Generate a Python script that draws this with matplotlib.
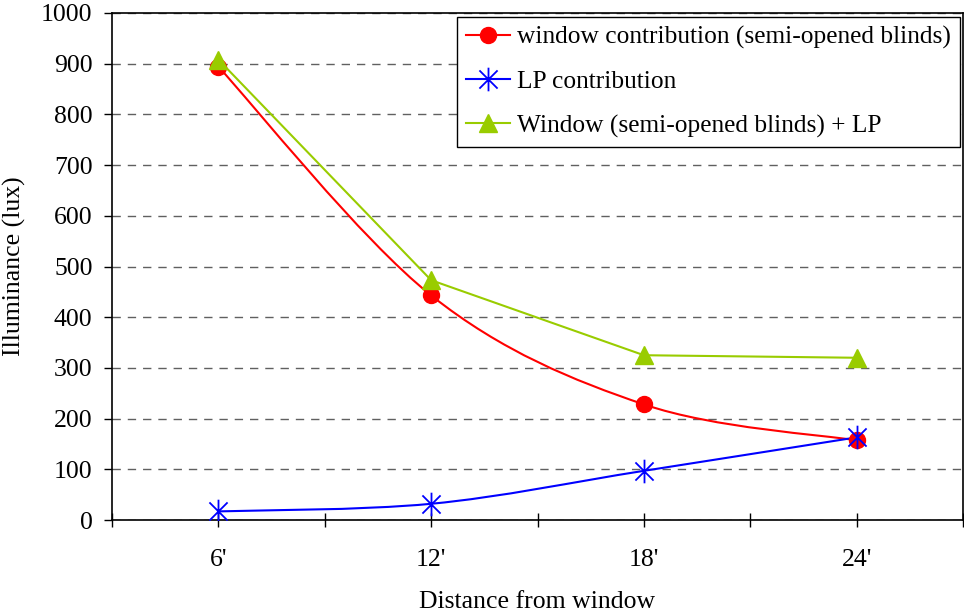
import numpy as np
import matplotlib
matplotlib.use('Agg')
from matplotlib import pyplot as plt
from matplotlib.path import Path
from matplotlib.patches import PathPatch

plt.rcParams['font.family'] = ['Liberation Serif', 'DejaVu Serif']

distances = ["6'", "12'", "18'", "24'"]
window = [894, 443, 228, 157]
lp = [17, 32, 97, 163]
total = [908, 473, 325, 320]

fontsize = 18.5
red = '#ff0000'
blue = '#0000ff'
green = '#99cc00'

# excel asterisk: an x plus a vertical bar
star = Path([(-1, -1), (1, 1), (-1, 1), (1, -1), (0, -1.3), (0, 1.3)],
            [Path.MOVETO, Path.LINETO] * 3)


def smooth_path(x, y):
    # excel style smoothed line: cubic bezier through the points
    pts = np.column_stack([x, y]).astype(float)
    n = len(pts)
    verts = [pts[0]]
    codes = [Path.MOVETO]
    for i in range(n - 1):
        p0 = pts[i - 1] if i > 0 else pts[i]
        p1 = pts[i]
        p2 = pts[i + 1]
        p3 = pts[i + 2] if i + 2 < n else pts[i + 1]
        c1 = p1 + (p2 - p0) / 6.
        c2 = p2 - (p3 - p1) / 6.
        verts += [c1, c2, p2]
        codes += [Path.CURVE4] * 3
    return Path(verts, codes)


fig = plt.figure(figsize=(9.64, 6.13), dpi=100)
ax = fig.add_axes([0.1162, 0.1517, 0.8828, 0.8271])

xs = np.arange(len(distances)) + 0.5

ax.add_patch(PathPatch(smooth_path(xs, window), fc='none', ec=red, lw=1.5, zorder=3))
ax.add_patch(PathPatch(smooth_path(xs, lp), fc='none', ec=blue, lw=1.5, zorder=3))
ax.plot(xs, total, color=green, lw=1.5, zorder=3)

ax.plot(xs, window, ls='none', marker='o', color=red, markersize=11.5, zorder=4)
ax.plot(xs, lp, ls='none', marker=star, color=blue, markersize=17, mew=1.3, zorder=4)
ax.plot(xs, total, ls='none', marker='^', color=green, markersize=13, zorder=4)

# legend handles
h1, = ax.plot([], [], color=red, lw=1.5, marker='o', markersize=11.5)
h2, = ax.plot([], [], color=blue, lw=1.5, marker=star, markersize=17, mew=1.3)
h3, = ax.plot([], [], color=green, lw=1.5, marker='^', markersize=13)
leg = ax.legend([h1, h2, h3],
                ['window contribution (semi-opened blinds)', 'LP contribution',
                 'Window (semi-opened blinds) + LP'],
                loc='upper right', bbox_to_anchor=(960 / 964, 1 - 17 / 613),
                bbox_transform=fig.transFigure,
                fontsize=18.3, frameon=True, fancybox=False,
                edgecolor='black', framealpha=1, borderaxespad=0, handlelength=1.75,
                handletextpad=0.28, labelspacing=0.84, borderpad=0.35)
leg.get_frame().set_linewidth(1.0)

ax.set_xlim(0, len(distances))
ax.set_ylim(0, 1000)
ax.set_yticks(np.arange(0, 1001, 100))
ax.set_xticks(xs)
ax.set_xticklabels(distances)
ax.set_xticks(np.arange(0, len(distances) + 1), minor=True)
ax.tick_params(axis='y', direction='out', length=6, width=1, labelsize=fontsize, pad=8)
ax.tick_params(axis='x', which='both', direction='inout', length=10, width=1,
               labelsize=fontsize, pad=16)

ax.yaxis.grid(True, ls=(0, (6, 5)), color='#606060', lw=1)
ax.set_axisbelow(True)
for s in ax.spines.values():
    s.set_linewidth(1.2)

ax.set_ylabel('Illuminance (lux)', fontsize=fontsize, labelpad=11)
ax.set_xlabel('Distance from window', fontsize=fontsize, labelpad=14)

plt.savefig('out.png', dpi=100)
